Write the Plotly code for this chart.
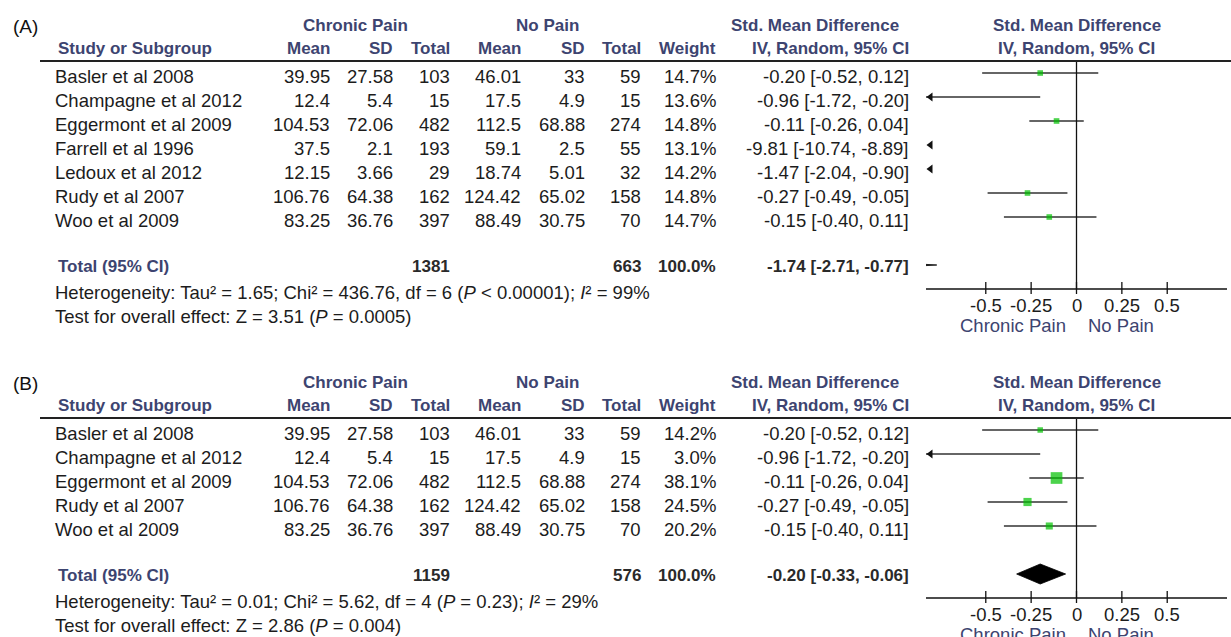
import plotly.graph_objects as go

W, H = 1231, 637

# ---------------- data ----------------
studies_A = ["Basler et al 2008", "Champagne et al 2012", "Eggermont et al 2009",
             "Farrell et al 1996", "Ledoux et al 2012", "Rudy et al 2007", "Woo et al 2009"]
cp_mean_A = [39.95, 12.4, 104.53, 37.5, 12.15, 106.76, 83.25]
cp_sd_A = [27.58, 5.4, 72.06, 2.1, 3.66, 64.38, 36.76]
cp_n_A = [103, 15, 482, 193, 29, 162, 397]
np_mean_A = [46.01, 17.5, 112.5, 59.1, 18.74, 124.42, 88.49]
np_sd_A = [33, 4.9, 68.88, 2.5, 5.01, 65.02, 30.75]
np_n_A = [59, 15, 274, 55, 32, 158, 70]
weight_A = [14.7, 13.6, 14.8, 13.1, 14.2, 14.8, 14.7]
smd_A = [-0.20, -0.96, -0.11, -9.81, -1.47, -0.27, -0.15]
lo_A = [-0.52, -1.72, -0.26, -10.74, -2.04, -0.49, -0.40]
hi_A = [0.12, -0.20, 0.04, -8.89, -0.90, -0.05, 0.11]
tot_n_A = [1381, 663]
tot_weight_A = 100.0
tot_est_A = [-1.74, -2.71, -0.77]
het_A = "Heterogeneity: Tau² = 1.65; Chi² = 436.76, df = 6 (<i>P</i> < 0.00001); <i>I</i>² = 99%"
test_A = "Test for overall effect: Z = 3.51 (<i>P</i> = 0.0005)"

studies_B = ["Basler et al 2008", "Champagne et al 2012", "Eggermont et al 2009",
             "Rudy et al 2007", "Woo et al 2009"]
cp_mean_B = [39.95, 12.4, 104.53, 106.76, 83.25]
cp_sd_B = [27.58, 5.4, 72.06, 64.38, 36.76]
cp_n_B = [103, 15, 482, 162, 397]
np_mean_B = [46.01, 17.5, 112.5, 124.42, 88.49]
np_sd_B = [33, 4.9, 68.88, 65.02, 30.75]
np_n_B = [59, 15, 274, 158, 70]
weight_B = [14.2, 3.0, 38.1, 24.5, 20.2]
smd_B = [-0.20, -0.96, -0.11, -0.27, -0.15]
lo_B = [-0.52, -1.72, -0.26, -0.49, -0.40]
hi_B = [0.12, -0.20, 0.04, -0.05, 0.11]
tot_n_B = [1159, 576]
tot_weight_B = 100.0
tot_est_B = [-0.20, -0.33, -0.06]
het_B = "Heterogeneity: Tau² = 0.01; Chi² = 5.62, df = 4 (<i>P</i> = 0.23); <i>I</i>² = 29%"
test_B = "Test for overall effect: Z = 2.86 (<i>P</i> = 0.004)"

tick_vals = [-0.5, -0.25, 0, 0.25, 0.5]
tick_text = ["-0.5", "-0.25", "0", "0.25", "0.5"]
favours = ["Chronic Pain", "No Pain"]
x_range = [-0.83, 0.83]

# ---------------- styling / layout constants ----------------
FONT = "Liberation Sans, Arial, sans-serif"
TXT = "#1c1c1c"
HDR = "#3d4470"
REG = 18.5
BLD = 17
ROW_PX = 24.0
PLOT_X0, PLOT_X1 = 925.9, 1227.1
PX_PER_UNIT = (PLOT_X1 - PLOT_X0) / (x_range[1] - x_range[0])

fig = go.Figure()
annotations = []
shapes = []


def txt(text, x_px, y, yref, anchor="left", size=REG, bold=False, color=TXT):
    annotations.append(dict(
        text=f"<b>{text}</b>" if bold else text,
        x=x_px / W, xref="paper", y=y, yref=yref,
        xanchor=anchor, yanchor="middle", showarrow=False, borderpad=0,
        font=dict(family=FONT, size=size, color=color)))


def fmt(v):
    return str(v)


def ci_str(e, l, h):
    return f"{e:.2f} [{l:.2f}, {h:.2f}]"


def panel(label, yref, yax, studies, cpm, cps, cpn, npm, nps, npn, wts, est, lo, hi,
          tot_n, tot_w, tot_est, het, test):
    n = len(studies)
    total_row = n + 1
    axis_row = total_row + 1
    # headers
    txt(label, 12, -1.95, yref, size=19, color="#111")
    txt("Chronic Pain", 355, -1.98, yref, "center", BLD, True, HDR)
    txt("No Pain", 547, -1.98, yref, "center", BLD, True, HDR)
    txt("Std. Mean Difference", 814.5, -1.98, yref, "center", BLD, True, HDR)
    txt("Std. Mean Difference", 1076.5, -1.98, yref, "center", BLD, True, HDR)
    txt("Study or Subgroup", 57, -1.02, yref, "left", BLD, True, HDR)
    for name, xr in [("Mean", 331), ("SD", 394), ("Total", 451), ("Mean", 522),
                     ("SD", 586), ("Total", 642), ("Weight", 717),
                     ("IV, Random, 95% CI", 910)]:
        txt(name, xr, -1.02, yref, "right", BLD, True, HDR)
    txt("IV, Random, 95% CI", 1076.5, -1.02, yref, "center", BLD, True, HDR)
    shapes.append(dict(type="line", xref="paper", yref=yref, x0=40 / W, x1=1,
                       y0=-0.5, y1=-0.5, line=dict(color="#222", width=2)))
    # study rows
    for i in range(n):
        y = i + 0.146
        txt(studies[i], 54, y, yref)
        txt(fmt(cpm[i]), 331, y, yref, "right")
        txt(fmt(cps[i]), 394, y, yref, "right")
        txt(fmt(cpn[i]), 451, y, yref, "right")
        txt(fmt(npm[i]), 522, y, yref, "right")
        txt(fmt(nps[i]), 586, y, yref, "right")
        txt(fmt(npn[i]), 642, y, yref, "right")
        txt(f"{wts[i]:.1f}%", 717, y, yref, "right")
        txt(ci_str(est[i], lo[i], hi[i]), 910, y, yref, "right")
    # totals
    yt = total_row + 0.08
    txt("Total (95% CI)", 57, yt, yref, "left", BLD, True, HDR)
    txt(str(tot_n[0]), 451, yt, yref, "right", BLD, True, "#2a2a2a")
    txt(str(tot_n[1]), 642, yt, yref, "right", BLD, True, "#2a2a2a")
    txt(f"{tot_w:.1f}%", 717, yt, yref, "right", BLD, True, "#2a2a2a")
    txt(ci_str(*tot_est), 910, yt, yref, "right", BLD, True, "#2a2a2a")
    txt(het, 54, axis_row + 0.15, yref)
    txt(test, 54, axis_row + 1.15, yref)

    xmin, xmax = x_range
    # CI lines
    lx, ly = [], []
    for i in range(n):
        if hi[i] > xmin and lo[i] < xmax:
            lx += [max(lo[i], xmin), min(hi[i], xmax), None]
            ly += [i, i, None]
    fig.add_trace(go.Scatter(x=lx, y=ly, mode="lines", xaxis="x", yaxis=yax,
                             line=dict(color="#333", width=1.6), hoverinfo="skip"))
    # squares
    sx, sy, ss = [], [], []
    for i in range(n):
        if xmin <= est[i] <= xmax:
            sx.append(est[i]); sy.append(i); ss.append(1.8 + 0.26 * wts[i])
    fig.add_trace(go.Scatter(x=sx, y=sy, mode="markers", xaxis="x", yaxis=yax,
                             marker=dict(symbol="square", size=ss, color="#00c000",
                                         line=dict(width=0)), hoverinfo="skip"))
    # arrows for off-scale intervals
    ax_, ay_ = [], []
    for i in range(n):
        if lo[i] < xmin:
            ax_.append(xmin + 4.6 / PX_PER_UNIT); ay_.append(i)
    fig.add_trace(go.Scatter(x=ax_, y=ay_, mode="markers", xaxis="x", yaxis=yax,
                             cliponaxis=False,
                             marker=dict(symbol="triangle-left", size=8, color="#111",
                                         line=dict(width=0)), hoverinfo="skip"))
    # diamond
    e, l, h = tot_est
    dh = 10 / ROW_PX
    fig.add_trace(go.Scatter(x=[l, e, h, e, l],
                             y=[total_row, total_row - dh, total_row, total_row + dh, total_row],
                             mode="lines", fill="toself", fillcolor="#000",
                             line=dict(color="#000", width=0.8), xaxis="x", yaxis=yax,
                             hoverinfo="skip"))
    # zero line, axis line, ticks
    fig.add_trace(go.Scatter(x=[0, 0], y=[-0.5, axis_row], mode="lines", xaxis="x", yaxis=yax,
                             line=dict(color="#111", width=1.3), hoverinfo="skip"))
    fig.add_trace(go.Scatter(x=[xmin, xmax], y=[axis_row, axis_row], mode="lines",
                             xaxis="x", yaxis=yax, cliponaxis=False,
                             line=dict(color="#111", width=1.4), hoverinfo="skip"))
    tx, ty = [], []
    for t in tick_vals:
        tx += [t, t, None]
        ty += [axis_row - 7 / ROW_PX, axis_row + 5 / ROW_PX, None]
    fig.add_trace(go.Scatter(x=tx, y=ty, mode="lines", xaxis="x", yaxis=yax,
                             line=dict(color="#111", width=1.3), hoverinfo="skip"))
    for t, s in zip(tick_vals, tick_text):
        annotations.append(dict(text=s, x=t, xref="x", y=axis_row + 0.69, yref=yref,
                                xanchor="center", yanchor="middle", showarrow=False,
                                borderpad=0, font=dict(family=FONT, size=REG, color=TXT)))
    off = 10 / PX_PER_UNIT
    annotations.append(dict(text=favours[0], x=-off, xref="x", y=axis_row + 1.52, yref=yref,
                            xanchor="right", yanchor="middle", showarrow=False, borderpad=0,
                            font=dict(family=FONT, size=REG, color=HDR)))
    annotations.append(dict(text=favours[1], x=off, xref="x", y=axis_row + 1.52, yref=yref,
                            xanchor="left", yanchor="middle", showarrow=False, borderpad=0,
                            font=dict(family=FONT, size=REG, color=HDR)))


ROW0_A, ROW0_B = 73.0, 430.0
panel("(A)", "y", "y", studies_A, cp_mean_A, cp_sd_A, cp_n_A, np_mean_A, np_sd_A, np_n_A,
      weight_A, smd_A, lo_A, hi_A, tot_n_A, tot_weight_A, tot_est_A, het_A, test_A)
panel("(B)", "y2", "y2", studies_B, cp_mean_B, cp_sd_B, cp_n_B, np_mean_B, np_sd_B, np_n_B,
      weight_B, smd_B, lo_B, hi_B, tot_n_B, tot_weight_B, tot_est_B, het_B, test_B)

fig.update_layout(
    width=W, height=H, margin=dict(l=0, r=0, t=0, b=0),
    paper_bgcolor="white", plot_bgcolor="white", showlegend=False,
    xaxis=dict(domain=[PLOT_X0 / W, PLOT_X1 / W], range=x_range, visible=False,
               fixedrange=True, anchor="y"),
    yaxis=dict(domain=[0, 1], range=[(H - ROW0_A) / ROW_PX, -ROW0_A / ROW_PX],
               visible=False, fixedrange=True),
    yaxis2=dict(domain=[0, 1], range=[(H - ROW0_B) / ROW_PX, -ROW0_B / ROW_PX],
                visible=False, fixedrange=True, overlaying="y", anchor="x"),
    annotations=annotations, shapes=shapes,
)

fig.write_html("out.html", config={"displayModeBar": False, "staticPlot": True},
               post_script="document.body.style.margin='0';document.body.style.overflow='hidden';")
